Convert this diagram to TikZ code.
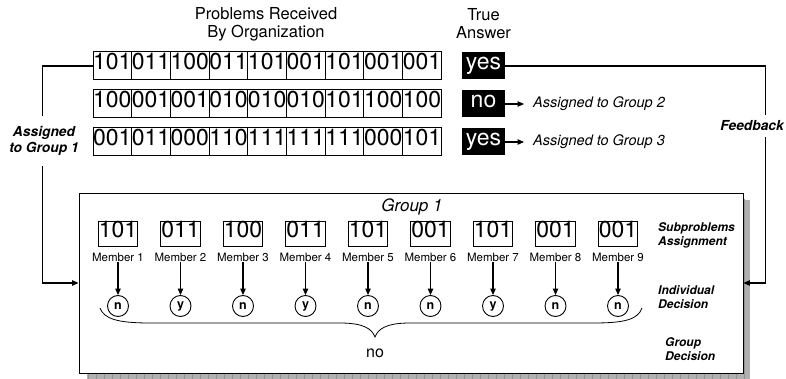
\documentclass[tikz,border=0pt]{standalone}
\usepackage{fontspec}
\setmainfont{TeX Gyre Heros}
\usetikzlibrary{arrows.meta}

\tikzset{
  bits/.style={font=\fontsize{23}{23}\selectfont, text height=0.72em, text depth=0pt},
  cell/.style={bits, draw, line width=1pt, minimum width=38.7pt, minimum height=28pt, inner sep=0pt},
  answer/.style={bits, fill=black, text=white, minimum width=43pt, minimum height=27pt, inner sep=0pt},
  subbox/.style={bits, draw, line width=1pt, minimum height=24pt, inner xsep=0.5pt, inner ysep=0pt},
  memlabel/.style={font=\fontsize{11.5}{11.5}\selectfont, inner sep=1pt},
  decision/.style={circle, draw, line width=0.9pt, minimum size=21pt, inner sep=0pt, font=\bfseries\fontsize{12.5}{12.5}\selectfont},
  groupbox/.style={draw, fill=white, line width=0.9pt, minimum width=664pt, minimum height=180pt, inner sep=0pt},
  heading/.style={align=center, font=\fontsize{16.5}{18}\selectfont},
  sidelabel/.style={anchor=west, align=left, inner sep=0pt, font=\bfseries\itshape\fontsize{12}{14}\selectfont},
  flowlabel/.style={fill=white, align=center, font=\bfseries\itshape\fontsize{13.8}{16}\selectfont},
  grouplabel/.style={anchor=west, inner xsep=9pt, font=\itshape\fontsize{14.5}{14.5}\selectfont},
  arr/.style={-{Triangle[length=6.5pt,width=5.5pt]}, line width=1.1pt}
}

\begin{document}
\begin{tikzpicture}[x=1pt, y=-1pt]
    \useasboundingbox (0,0) rectangle (786,379);
    % headings
    \node[heading] (probs) at (266,24) {Problems Received\\By Organization};
    \node[heading] (truth) at (483.5,24) {True\\Answer};
    % problems and their true answers
    \foreach \r/\y/\a/\row in {1/66/yes/{101,011,100,011,101,001,101,001,001},
                               2/104/no/{100,001,001,010,010,010,101,100,100},
                               3/142/yes/{001,011,000,110,111,111,111,000,101}} {
        \foreach \b [count=\c] in \row
            \node[cell] (r\r c\c) at ({93+38.7*(\c-0.5)},\y) {\b};
        \node[answer] (ans\r) at (483.5,\y) {\a};
    }
    \node[grouplabel] (to2) at (524,104) {Assigned to Group 2};
    \node[grouplabel] (to3) at (524,142) {Assigned to Group 3};
    \draw[arr] (ans2) -- (to2);
    \draw[arr] (ans3) -- (to3);
    % group box with its shadow
    \fill[gray!62] (87,200) rectangle (750,380);
    \begin{scope}
        \clip (87,200) rectangle (750,380);
        \draw[gray!85, line width=0.5pt, step=8] (80,192) grid (752,384);
    \end{scope}
    \node[groupbox] (grp) at (411,283) {};
    \node[font=\itshape\fontsize{17}{17}\selectfont] (gname) at (412,207) {Group 1};
    % members
    \foreach \v/\d [count=\i] in {101/n,011/y,100/n,011/y,101/n,001/n,101/y,001/n,001/n} {
        \node[subbox] (sub\i) at ({118+62.5*(\i-1)},234) {\v};
        \node[memlabel] (mem\i) at ({118+62.5*(\i-1)},257) {Member \i};
        \node[decision] (dec\i) at ({118+62.5*(\i-1)},306) {\d};
        \draw[arr] (mem\i) -- (dec\i);
    }
    % brace and group decision
    \coordinate (bl) at (100,308);
    \coordinate (br) at (642,308);
    \coordinate (btip) at (375,337);
    \draw[line width=0.8pt] (bl) .. controls (104,319) and (118,323) .. (150,323)
        -- (340,323) .. controls (364,323) and (372,329) .. (btip)
        .. controls (378,329) and (386,323) .. (410,323)
        -- (594,323) .. controls (626,323) and (638,319) .. (br);
    \node[font=\fontsize{16}{16}\selectfont] (gdec) at (375,353) {no};
    % row labels
    \node[sidelabel] (lsub) at (658,235) {Subproblems\\Assignment};
    \node[sidelabel] (lind) at (658,297) {Individual\\Decision};
    \node[sidelabel] (lgrp) at (665,349) {Group\\Decision};
    % assignment and feedback
    \draw[arr] (r1c1.west) -| ([xshift=-36pt]grp.west) -- (grp.west);
    \draw[arr] (ans1.east) -| ([xshift=22pt]grp.east) -- (grp.east);
    \node[flowlabel, inner xsep=2pt, inner ysep=10pt] (assign) at (44,141) {Assigned\\to Group 1};
    \node[flowlabel, inner xsep=1pt, inner ysep=6pt] (feed) at (752,126) {Feedback};
\end{tikzpicture}
\end{document}
